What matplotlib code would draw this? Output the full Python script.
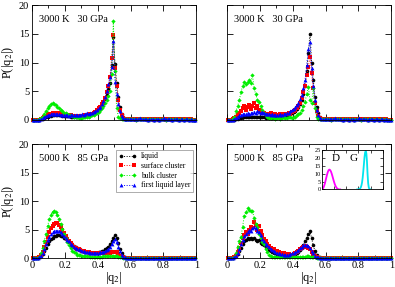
import numpy as np
import matplotlib
matplotlib.use("Agg")
import matplotlib.pyplot as plt
from matplotlib.ticker import MultipleLocator

plt.rcParams['font.family'] = ['Liberation Serif', 'DejaVu Serif']
plt.rcParams['mathtext.fontset'] = 'stix'

# bin centres of |q2|
q = np.arange(100) * 0.01 + 0.005

TAIL_TOP = [0.1, 0.1, 0.1, 0.05, 0.1, 0.1, 0.15, 0.1, 0.1, 0.1,
            0.05, 0.1, 0.1, 0.1, 0.05, 0.1, 0.1, 0.05, 0.1, 0.1,
            0.1, 0.05, 0.1, 0.1, 0.1, 0.05, 0.1, 0.1, 0.1, 0.05,
            0.1, 0.1, 0.05, 0.1, 0.1, 0.05, 0.1, 0.05, 0.05, 0.05]
TAIL_TOP_B = [0.1, 0.1, 0.15, 0.1, 0.1, 0.35, 0.15, 0.1, 0.1, 0.1,
              0.05, 0.1, 0.1, 0.1, 0.05, 0.1, 0.1, 0.05, 0.1, 0.1,
              0.3, 0.1, 0.1, 0.1, 0.1, 0.05, 0.1, 0.1, 0.1, 0.05,
              0.1, 0.1, 0.05, 0.1, 0.1, 0.05, 0.1, 0.05, 0.05, 0.05]
TAIL_BOT = [0.0] * 40

# ---- 3000 K 30 GPa, left panel ----
a_liquid = [0, 0, 0, 0, 0.05, 0.1, 0.2, 0.35, 0.5, 0.6,
            0.7, 0.75, 0.8, 0.85, 0.85, 0.85, 0.8, 0.8, 0.75, 0.7,
            0.7, 0.65, 0.65, 0.6, 0.6, 0.6, 0.55, 0.6, 0.55, 0.6,
            0.6, 0.65, 0.7, 0.75, 0.8, 0.9, 1.0, 1.1, 1.3, 1.5,
            1.8, 2.1, 2.5, 3.0, 3.6, 4.4, 5.4, 6.5, 9.5, 14.5,
            9.7, 6.5, 4.0, 2.2, 1.0, 0.5, 0.25, 0.15, 0.1, 0.1] + TAIL_TOP
a_surface = [0, 0, 0, 0, 0.05, 0.15, 0.3, 0.5, 0.7, 0.9,
             1.0, 1.1, 1.2, 1.3, 1.3, 1.3, 1.2, 1.1, 1.0, 0.95,
             0.9, 0.85, 0.8, 0.8, 0.75, 0.7, 0.7, 0.7, 0.65, 0.7,
             0.7, 0.75, 0.8, 0.85, 0.9, 1.0, 1.1, 1.2, 1.4, 1.7,
             2.0, 2.3, 2.7, 3.2, 3.9, 4.8, 6.0, 7.5, 10.8, 14.8,
             9.0, 6.0, 3.5, 1.8, 0.8, 0.4, 0.2, 0.15, 0.1, 0.1] + TAIL_TOP
a_bulk = [0, 0, 0, 0, 0.1, 0.3, 0.6, 1.0, 1.5, 2.0,
          2.4, 2.7, 2.9, 2.8, 2.6, 2.3, 2.0, 1.7, 1.5, 1.3,
          1.2, 1.0, 0.9, 0.8, 0.7, 0.6, 0.5, 0.45, 0.4, 0.4,
          0.4, 0.45, 0.5, 0.55, 0.6, 0.7, 0.8, 0.9, 1.0, 1.2,
          1.4, 1.7, 2.0, 2.4, 2.9, 3.5, 4.2, 5.0, 8.0, 17.2,
          8.5, 2.0, 0.6, 0.3, 0.2, 0.15, 0.1, 0.1, 0.1, 0.1] + TAIL_TOP
a_layer = [0, 0, 0, 0, 0.05, 0.15, 0.3, 0.5, 0.7, 0.8,
           0.9, 1.0, 1.1, 1.1, 1.1, 1.0, 1.0, 0.9, 0.9, 0.85,
           0.8, 0.8, 0.75, 0.9, 0.8, 0.95, 0.8, 0.85, 0.8, 0.9,
           1.0, 0.9, 1.1, 1.2, 1.0, 1.2, 1.3, 1.4, 1.5, 1.8,
           2.0, 2.3, 2.8, 3.3, 4.0, 5.0, 6.2, 7.5, 9.3, 13.8,
           6.7, 4.5, 2.8, 1.5, 0.7, 0.35, 0.2, 0.15, 0.1, 0.1] + TAIL_TOP_B

# ---- 3000 K 30 GPa, right panel ----
b_liquid = [0, 0, 0, 0, 0.05, 0.1, 0.2, 0.3, 0.4, 0.5,
            0.55, 0.6, 0.6, 0.6, 0.6, 0.6, 0.55, 0.55, 0.5, 0.5,
            0.5, 0.45, 0.45, 0.4, 0.45, 0.4, 0.4, 0.4, 0.45, 0.4,
            0.45, 0.5, 0.5, 0.55, 0.6, 0.7, 0.8, 0.9, 1.0, 1.2,
            1.4, 1.6, 1.9, 2.3, 2.8, 3.5, 4.5, 6.0, 8.5, 11.6,
            15.0, 10.0, 7.0, 4.0, 2.3, 1.2, 0.5, 0.2, 0.1, 0.1] + TAIL_TOP
b_surface = [0, 0, 0, 0.1, 0.3, 0.6, 0.9, 1.2, 1.6, 2.0,
             2.4, 1.8, 2.2, 2.6, 1.9, 2.4, 2.9, 2.0, 2.4, 1.8,
             1.5, 1.4, 1.2, 1.0, 1.1, 0.9, 1.2, 0.8, 0.9, 1.0,
             0.8, 0.9, 1.0, 0.8, 1.0, 1.1, 1.0, 1.2, 1.1, 1.4,
             1.6, 1.8, 2.1, 2.5, 3.0, 3.8, 4.8, 6.0, 7.8, 9.3,
             11.0, 8.2, 5.5, 3.0, 1.5, 0.7, 0.3, 0.15, 0.1, 0.1] + TAIL_TOP
b_bulk = [0, 0, 0, 0.2, 0.6, 1.5, 2.5, 3.5, 4.8, 6.0,
          6.6, 6.2, 6.6, 7.0, 6.5, 7.8, 5.5, 4.5, 3.5, 3.2,
          2.5, 1.7, 1.2, 0.8, 0.5, 0.4, 0.3, 0.5, 0.3, 0.2,
          0.3, 0.4, 0.2, 0.3, 0.5, 0.4, 0.3, 0.6, 0.5, 0.4,
          0.6, 0.5, 0.8, 1.0, 1.3, 1.8, 2.5, 3.2, 4.5, 5.7,
          3.5, 3.0, 5.5, 2.0, 0.5, 0.15, 0.1, 0.1, 0.1, 0.1] + TAIL_TOP
b_layer = [0, 0, 0, 0.05, 0.2, 0.4, 0.6, 0.8, 0.9, 1.0,
           1.0, 1.1, 1.2, 1.1, 1.3, 1.2, 1.4, 1.3, 1.5, 1.4,
           1.3, 1.4, 1.2, 1.1, 1.0, 1.1, 0.9, 1.0, 0.8, 0.9,
           0.9, 0.8, 1.0, 0.9, 1.0, 1.1, 1.2, 1.3, 1.5, 1.7,
           1.9, 2.2, 2.6, 3.0, 3.6, 4.4, 5.5, 7.0, 9.5, 12.3,
           13.6, 9.0, 6.0, 3.5, 1.8, 0.8, 0.3, 0.15, 0.1, 0.1] + TAIL_TOP_B

# ---- 5000 K 85 GPa, left panel ----
c_liquid = [0, 0, 0, 0, 0.1, 0.3, 0.7, 1.2, 1.8, 2.4,
            2.9, 3.3, 3.6, 3.8, 3.9, 4.0, 4.0, 3.9, 3.8, 3.6,
            3.4, 3.1, 2.8, 2.6, 2.3, 2.1, 1.9, 1.7, 1.6, 1.5,
            1.3, 1.2, 1.1, 1.0, 1.0, 0.9, 0.9, 0.9, 0.9, 0.9,
            1.0, 1.1, 1.2, 1.3, 1.5, 1.7, 2.0, 2.4, 2.9, 3.5,
            4.0, 3.6, 2.6, 1.5, 0.8, 0.3, 0.1, 0.05, 0, 0] + TAIL_BOT
c_surface = [0, 0, 0, 0, 0.1, 0.5, 1.1, 1.9, 2.8, 3.7,
             4.5, 5.2, 5.7, 6.0, 6.2, 6.1, 5.8, 5.4, 4.9, 4.4,
             3.9, 3.4, 3.0, 2.6, 2.3, 2.0, 1.8, 1.6, 1.5, 1.4,
             1.3, 1.2, 1.1, 1.0, 1.0, 0.9, 0.9, 0.9, 0.8, 0.8,
             0.8, 0.8, 0.8, 0.8, 0.8, 0.8, 0.9, 0.9, 1.0, 1.1,
             1.1, 1.0, 0.7, 0.4, 0.2, 0.1, 0.05, 0, 0, 0] + TAIL_BOT
c_bulk = [0, 0, 0, 0, 0.2, 0.8, 1.8, 3.0, 4.3, 5.6,
          6.8, 7.6, 8.1, 8.2, 8.0, 7.5, 6.8, 6.0, 5.1, 4.3,
          3.5, 2.8, 2.2, 1.7, 1.3, 1.0, 0.8, 0.6, 0.5, 0.45,
          0.4, 0.35, 0.3, 0.3, 0.3, 0.25, 0.25, 0.25, 0.25, 0.25,
          0.25, 0.25, 0.25, 0.3, 0.3, 0.3, 0.3, 0.35, 0.35, 0.4,
          0.4, 0.35, 0.25, 0.15, 0.1, 0.05, 0, 0, 0, 0] + TAIL_BOT
c_layer = [0, 0, 0, 0, 0.1, 0.4, 0.9, 1.6, 2.4, 3.1,
           3.7, 4.2, 4.5, 4.7, 4.8, 4.8, 4.7, 4.5, 4.2, 3.9,
           3.6, 3.2, 2.9, 2.5, 2.2, 2.0, 1.8, 1.6, 1.5, 1.4,
           1.3, 1.2, 1.1, 1.0, 1.0, 0.9, 0.9, 0.9, 0.9, 0.9,
           0.9, 1.0, 1.0, 1.1, 1.2, 1.4, 1.6, 1.9, 2.4, 2.9,
           3.3, 2.8, 2.0, 1.2, 0.6, 0.25, 0.1, 0.05, 0, 0] + TAIL_BOT

# ---- 5000 K 85 GPa, right panel ----
d_liquid = [0, 0, 0, 0, 0.1, 0.3, 0.7, 1.2, 1.8, 2.4,
            2.9, 3.2, 3.5, 3.4, 3.6, 3.3, 3.5, 3.2, 3.0, 3.1,
            2.7, 2.4, 2.2, 1.9, 1.7, 1.4, 1.2, 1.0, 0.9, 0.8,
            0.7, 0.6, 0.6, 0.5, 0.5, 0.5, 0.4, 0.5, 0.5, 0.6,
            0.6, 0.7, 0.9, 1.1, 1.4, 1.8, 2.3, 2.9, 3.6, 4.2,
            4.7, 3.5, 2.2, 1.2, 0.5, 0.2, 0.1, 0.05, 0, 0] + TAIL_BOT
d_surface = [0, 0, 0, 0, 0.1, 0.4, 1.0, 1.8, 2.7, 3.5,
             4.0, 4.5, 4.2, 5.0, 5.5, 5.2, 6.4, 5.8, 5.0, 5.6,
             4.7, 4.0, 3.4, 2.9, 2.5, 2.1, 1.8, 1.6, 1.5, 1.3,
             1.2, 1.0, 0.9, 0.8, 0.8, 0.7, 0.6, 0.7, 0.6, 0.6,
             0.7, 0.8, 1.0, 1.2, 1.5, 1.8, 2.0, 2.1, 2.0, 1.8,
             1.5, 1.0, 0.6, 0.3, 0.15, 0.05, 0, 0, 0, 0] + TAIL_BOT
d_bulk = [0, 0, 0, 0, 0.2, 0.8, 2.0, 3.0, 3.7, 5.5,
          7.4, 8.0, 8.7, 8.5, 8.2, 8.3, 7.0, 6.0, 5.5, 4.3,
          3.5, 2.8, 2.5, 1.6, 1.0, 0.6, 0.3, 0.2, 0.15, 0.1,
          0.1, 0.1, 0.1, 0.1, 0.15, 0.1, 0.1, 0.15, 0.1, 0.1,
          0.1, 0.15, 0.1, 0.15, 0.2, 0.2, 0.25, 0.2, 0.3, 0.3,
          0.25, 0.2, 0.15, 0.1, 0.05, 0, 0, 0, 0, 0] + TAIL_BOT
d_layer = [0, 0, 0, 0, 0.1, 0.4, 0.9, 1.6, 2.4, 3.2,
           3.8, 4.3, 4.6, 5.0, 4.7, 5.2, 5.5, 5.3, 4.8, 4.5,
           4.0, 3.4, 3.0, 2.5, 2.2, 1.9, 1.6, 1.4, 1.2, 1.0,
           0.9, 0.8, 0.7, 0.7, 0.6, 0.6, 0.6, 0.6, 0.7, 0.8,
           0.9, 1.0, 1.2, 1.4, 1.7, 2.0, 2.2, 2.3, 2.2, 2.1,
           1.8, 1.3, 0.8, 0.4, 0.2, 0.1, 0.05, 0, 0, 0] + TAIL_BOT

# ---- inset: diamond (D) and graphite (G) references ----
inset_d_q = [0.00, 0.01, 0.02, 0.03, 0.04, 0.05, 0.06, 0.07, 0.08, 0.09, 0.10,
             0.11, 0.12, 0.13, 0.14, 0.15, 0.16, 0.17, 0.18, 0.19, 0.20,
             0.21, 0.22, 0.23, 0.24, 0.25, 0.26, 0.27, 0.28, 0.29, 0.30]
inset_d_p = [0, 0.3, 0.8, 1.6, 2.7, 4.0, 5.6, 7.2, 8.8, 10.2, 11.4,
             12.2, 12.6, 12.5, 12.0, 11.2, 10.1, 8.8, 7.4, 6.0, 4.7,
             3.5, 2.5, 1.7, 1.1, 0.6, 0.3, 0.15, 0.05, 0, 0]
inset_g_q = [0.58, 0.60, 0.62, 0.63, 0.64, 0.65, 0.66, 0.67, 0.68, 0.69, 0.70,
             0.71, 0.72, 0.73, 0.74, 0.75, 0.76, 0.77, 0.78, 0.79, 0.80]
inset_g_p = [0, 0.1, 0.3, 0.7, 1.4, 2.6, 4.5, 7.5, 11.5, 16.0, 20.5,
             23.5, 24.3, 23.0, 18.0, 10.0, 4.0, 1.3, 0.3, 0.05, 0]

labels = ['liquid', 'surface cluster', 'bulk cluster', 'first liquid layer']
colors = ['#000000', '#ff0000', '#00ee00', '#0000ff']
markers = ['o', 's', 'D', '^']
msizes = [2.6, 2.4, 2.2, 2.8]

panels = [
    (a_liquid, a_surface, a_bulk, a_layer),
    (b_liquid, b_surface, b_bulk, b_layer),
    (c_liquid, c_surface, c_bulk, c_layer),
    (d_liquid, d_surface, d_bulk, d_layer),
]
titles = ['3000 K   30 GPa', '3000 K   30 GPa', '5000 K   85 GPa', '5000 K   85 GPa']

fig = plt.figure(figsize=(3.95, 2.87), dpi=100)
W, H = 0.416, 0.400
rects = [(0.081, 0.582, W, H), (0.5747, 0.582, W, H),
         (0.081, 0.101, W, 0.397), (0.5747, 0.101, W, 0.397)]

axes = []
for k, (rect, series) in enumerate(zip(rects, panels)):
    ax = fig.add_axes(rect)
    axes.append(ax)
    for s, lab, c, m, ms in zip(series, labels, colors, markers, msizes):
        ax.plot(q, s, linestyle=':', linewidth=0.7, color=c, marker=m,
                markersize=ms, markeredgewidth=0, label=lab, clip_on=False)
    ax.set_xlim(0, 1)
    ax.set_ylim(0, 20)
    ax.xaxis.set_major_locator(MultipleLocator(0.2))
    ax.xaxis.set_minor_locator(MultipleLocator(0.1))
    ax.yaxis.set_major_locator(MultipleLocator(5))
    ax.tick_params(which='both', direction='in', top=True, right=True,
                   labelsize=7.5, pad=2, width=0.6)
    ax.tick_params(which='major', length=4)
    ax.tick_params(which='minor', length=2)
    for sp in ax.spines.values():
        sp.set_linewidth(0.6)
    ax.set_xticks([0, 0.2, 0.4, 0.6, 0.8, 1.0])
    ax.set_xticklabels(['0', '0.2', '0.4', '0.6', '0.8', '1'])
    if k < 2:
        ax.tick_params(labelbottom=False)
    else:
        ax.set_xlabel(r'|q$_2$|', fontsize=9, labelpad=0)
    if k % 2 == 1:
        ax.tick_params(labelleft=False)
    else:
        ax.set_ylabel(r'P(|q$_2$|)', fontsize=9, labelpad=2)
    ax.text(0.04, 0.875, titles[k], transform=ax.transAxes, fontsize=7.5,
            va='center', ha='left')

leg = axes[2].legend(loc='upper right', bbox_to_anchor=(0.99, 0.965),
                     fontsize=5.5, numpoints=2, handlelength=2.3,
                     handletextpad=0.6, borderpad=0.35, labelspacing=0.22,
                     borderaxespad=0.2,
                     frameon=True, fancybox=False, edgecolor='#888888')
leg.get_frame().set_linewidth(0.6)

ins = fig.add_axes((0.815, 0.340, 0.154, 0.137))
ins.plot(inset_d_q, inset_d_p, color='#ff00ff', linewidth=1.3)
ins.plot(inset_g_q, inset_g_p, color='#00e5ee', linewidth=1.3)
ins.set_xlim(0, 1)
ins.set_ylim(0, 25)
ins.xaxis.set_major_locator(MultipleLocator(0.2))
ins.yaxis.set_major_locator(MultipleLocator(5))
ins.tick_params(which='both', direction='in', top=True, right=True,
                labelsize=4.5, pad=1, length=2, width=0.5)
ins.tick_params(labelbottom=False)
for sp in ins.spines.values():
    sp.set_linewidth(0.6)
ins.text(0.22, 0.78, 'D', transform=ins.transAxes, fontsize=8, ha='center', va='center')
ins.text(0.52, 0.78, 'G', transform=ins.transAxes, fontsize=8, ha='center', va='center')

fig.savefig('out.png', dpi=100)
